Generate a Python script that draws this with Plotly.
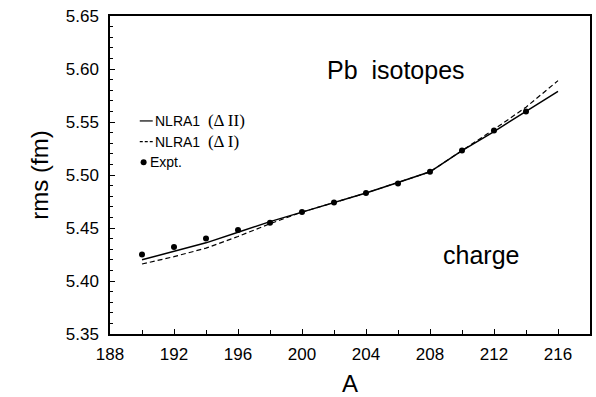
import plotly.graph_objects as go

# Mass numbers of Pb isotopes
A_expt = [190, 192, 194, 196, 198, 200, 202, 204, 206, 208, 210, 212, 214]
rms_expt = [5.425, 5.432, 5.440, 5.448, 5.455, 5.465, 5.474, 5.483, 5.492, 5.503, 5.523, 5.542, 5.560]

A_calc = [190, 192, 194, 196, 198, 200, 202, 204, 206, 208, 210, 212, 214, 216]
rms_dII = [5.420, 5.428, 5.436, 5.446, 5.456, 5.465, 5.474, 5.483, 5.493, 5.503, 5.523, 5.541, 5.560, 5.579]
rms_dI = [5.416, 5.423, 5.431, 5.442, 5.454, 5.465, 5.474, 5.483, 5.493, 5.503, 5.523, 5.543, 5.564, 5.589]

x_ticks = [188, 192, 196, 200, 204, 208, 212, 216]
y_ticks = [5.35, 5.40, 5.45, 5.50, 5.55, 5.60, 5.65]

SANS = "Arial, Liberation Sans, sans-serif"
SERIF = "Times New Roman, Liberation Serif, serif"

fig = go.Figure()
fig.add_trace(go.Scatter(x=A_calc, y=rms_dII, mode="lines",
                         line=dict(color="black", width=1.5), showlegend=False))
fig.add_trace(go.Scatter(x=A_calc, y=rms_dI, mode="lines",
                         line=dict(color="black", width=1.2, dash="5px,3px"), showlegend=False))
fig.add_trace(go.Scatter(x=A_expt, y=rms_expt, mode="markers",
                         marker=dict(color="black", size=6), showlegend=False))

# hand-drawn key in the upper-left corner
rows = [0.670, 0.605, 0.540]
labels = [
    f'NLRA1  <span style="font-family:{SERIF};font-size:17px">(\u0394 II)</span>',
    f'NLRA1  <span style="font-family:{SERIF};font-size:17px">(\u0394 I)</span>',
    'Expt.',
]
fig.add_shape(type="line", xref="paper", yref="paper", x0=0.062, x1=0.089,
              y0=rows[0], y1=rows[0], line=dict(color="black", width=1.2))
fig.add_shape(type="line", xref="paper", yref="paper", x0=0.062, x1=0.089,
              y0=rows[1], y1=rows[1], line=dict(color="black", width=1.2, dash="3px,2px"))
fig.add_shape(type="circle", xref="paper", yref="paper",
              xsizemode="pixel", ysizemode="pixel", xanchor=0.07, yanchor=rows[2],
              x0=-3, x1=3, y0=-3, y1=3, fillcolor="black", line=dict(width=0))
for i, (yy, lab) in enumerate(zip(rows, labels)):
    fig.add_annotation(x=0.089 if i < 2 else 0.079, y=yy, xref="paper", yref="paper",
                       text=lab, showarrow=False, xanchor="left", yanchor="middle",
                       font=dict(family=SANS, size=14, color="black"))

fig.add_annotation(x=0.448, y=0.83, xref="paper", yref="paper", text="Pb  isotopes",
                   showarrow=False, xanchor="left", yanchor="middle",
                   font=dict(family=SANS, size=25, color="black"))
fig.add_annotation(x=0.69, y=0.25, xref="paper", yref="paper", text="charge",
                   showarrow=False, xanchor="left", yanchor="middle",
                   font=dict(family=SANS, size=25, color="black"))

axis_common = dict(showgrid=False, zeroline=False, showline=True, linecolor="black",
                   linewidth=1.5, mirror=True, ticks="inside", tickcolor="black",
                   ticklen=5, tickwidth=1,
                   tickfont=dict(family=SANS, size=17, color="black"))

fig.update_xaxes(range=[188, 218], tickvals=x_ticks, ticktext=[str(v) for v in x_ticks],
                 minor=dict(dtick=2, tick0=188, ticks="inside", ticklen=4, tickcolor="black"),
                 ticklabelstandoff=4,
                 title=dict(text="A", font=dict(family=SANS, size=24, color="black"), standoff=12),
                 **axis_common)
fig.update_yaxes(range=[5.35, 5.65], tickvals=y_ticks, ticktext=[f"{v:.2f}" for v in y_ticks],
                 minor=dict(dtick=0.01, tick0=5.35, ticks="inside", ticklen=3, tickcolor="black"),
                 ticklabelstandoff=6,
                 title=dict(text="rms (fm)", font=dict(family=SANS, size=24, color="black"), standoff=10),
                 **axis_common)

fig.update_layout(width=596, height=397, margin=dict(l=110, r=4, t=16, b=58),
                  plot_bgcolor="white", paper_bgcolor="white")

fig.write_html("out.html")
